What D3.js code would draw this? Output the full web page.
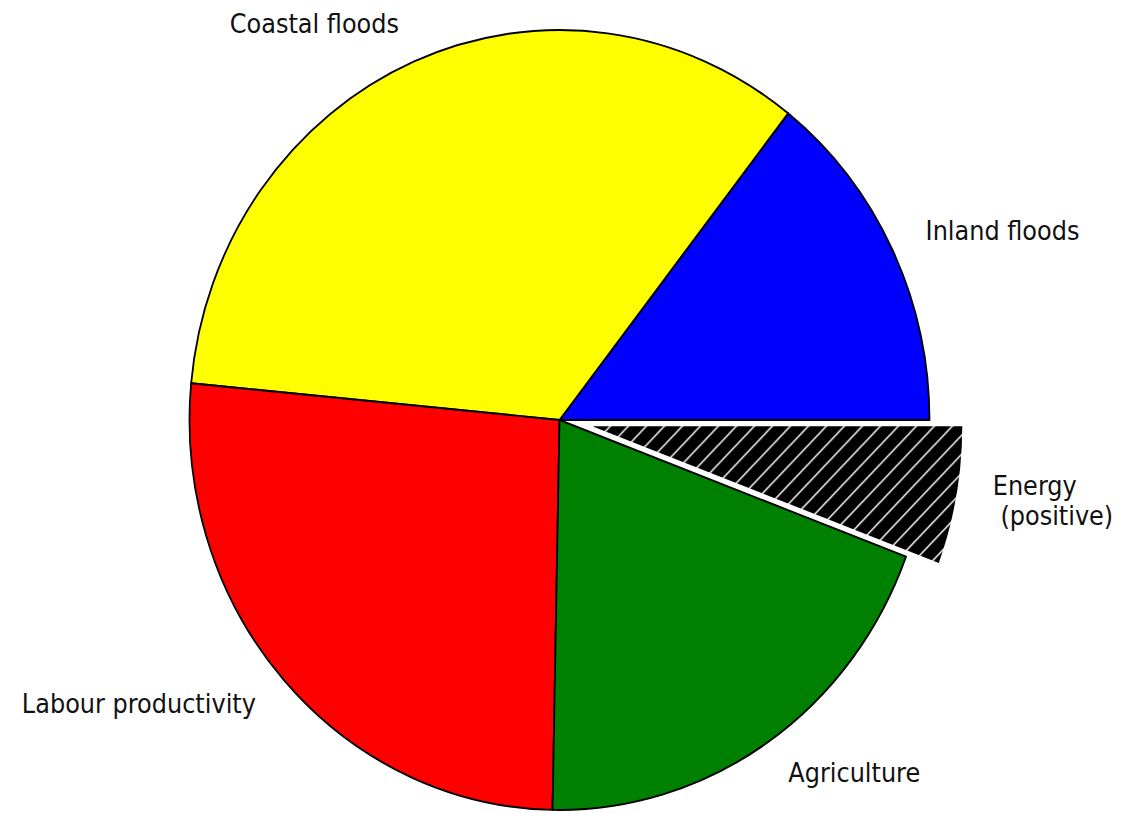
<!DOCTYPE html>
<html>
<head>
<meta charset="utf-8">
<script src="https://cdn.jsdelivr.net/npm/d3@7"></script>
<style>
  html, body { margin: 0; padding: 0; background: #fff; }
  svg { display: block; }
  text { font-family: "DejaVu Sans", sans-serif; }
</style>
</head>
<body>
<svg id="chart" width="1125" height="813"></svg>
<script>
// Data
const categories = ["Inland floods", "Coastal floods", "Labour productivity", "Agriculture", "Energy\n (positive)"];
const values = [14.4, 34.1, 26.2, 19.6, 5.7];
const colors = ["#0000ff", "#ffff00", "#ff0000", "#008000", "#000000"];
const explode = [0, 0, 0, 0, 0.09];
const hatched = [false, false, false, false, true];

const W = 1125, H = 813;
const cx = 559.5, cy = 420, R = 370, sy = 1.054;
const labelDistance = 1.1;
const fontSize = 24, textStretch = 1.08;

const svg = d3.select("#chart");

// hatch pattern
const hw = 18;
const defs = svg.append("defs");
const pat = defs.append("pattern")
  .attr("id", "hatch")
  .attr("patternUnits", "userSpaceOnUse")
  .attr("width", hw).attr("height", hw);
pat.append("rect").attr("width", hw).attr("height", hw).attr("fill", "#000");
pat.append("path")
  .attr("d", `M0,${hw} L${hw},0 M${-hw/4},${hw/4} L${hw/4},${-hw/4} M${3*hw/4},${5*hw/4} L${5*hw/4},${3*hw/4}`)
  .attr("stroke", "#fff").attr("stroke-width", 1.5);

const g = svg.append("g").attr("transform", `translate(${cx},${cy}) scale(1,${sy})`);

// matplotlib style: start at 3 o'clock, counterclockwise
const pie = d3.pie().sort(null).value(d => d)
  .startAngle(Math.PI / 2).endAngle(Math.PI / 2 - 2 * Math.PI);
const arcs = pie(values);
const arc = d3.arc().innerRadius(0).outerRadius(R);

arcs.forEach((a, i) => {
  const mid = (a.startAngle + a.endAngle) / 2;
  const off = explode[i] * R;
  const ox = off * Math.sin(mid), oy = -off * Math.cos(mid);
  g.append("path")
    .attr("d", arc(a))
    .attr("transform", `translate(${ox},${oy})`)
    .attr("fill", hatched[i] ? "url(#hatch)" : colors[i])
    .attr("stroke", hatched[i] ? "none" : "#000")
    .attr("stroke-width", 1.8)
    .attr("stroke-linejoin", "round");

  const lr = labelDistance * R;
  const lx = ox + lr * Math.sin(mid);
  const ly = oy - lr * Math.cos(mid);
  const lines = categories[i].split("\n");
  const lineH = 26.5;
  const t = g.append("text")
    .attr("transform", `translate(${lx},${ly}) scale(1,${textStretch})`)
    .attr("text-anchor", lx >= 0 ? "start" : "end")
    .attr("font-size", fontSize)
    .attr("fill", "#111")
    .style("white-space", "pre");
  lines.forEach((ln, k) => {
    t.append("tspan")
      .attr("x", 0)
      .attr("y", (k - (lines.length - 1) / 2) * lineH + 6.4)
      .text(ln);
  });
});
</script>
</body>
</html>
